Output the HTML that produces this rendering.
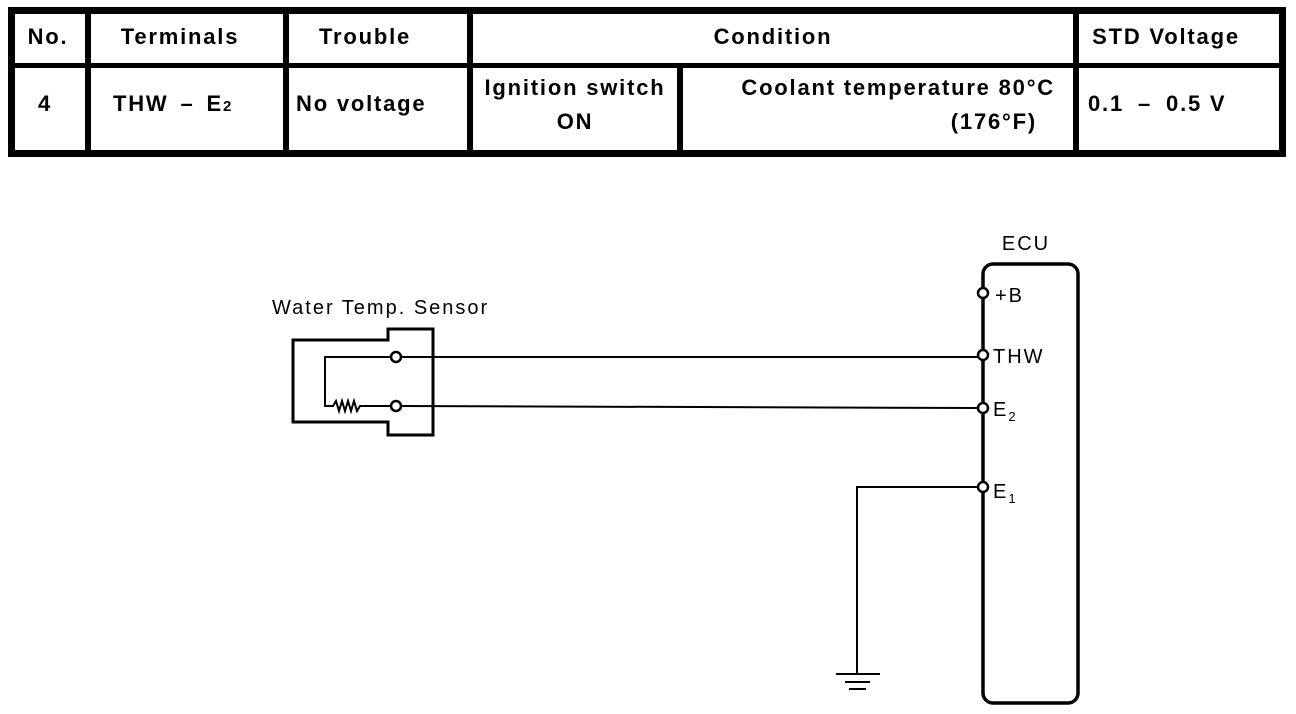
<!DOCTYPE html>
<html><head><meta charset="utf-8"><style>
html,body{margin:0;padding:0;background:#fff;}
svg{display:block;}
.t{font-family:"Liberation Sans",Arial,sans-serif;font-weight:bold;font-size:22px;letter-spacing:1.8px;fill:#000;}
.d{font-family:"Liberation Sans",Arial,sans-serif;font-size:20px;letter-spacing:2px;fill:#000;}
</style></head><body>
<svg width="1296" height="714" viewBox="0 0 1296 714" xmlns="http://www.w3.org/2000/svg">
<g fill="#000">
<rect x="8" y="7" width="1278" height="7"/>
<rect x="8" y="150" width="1278" height="7"/>
<rect x="8" y="7" width="7" height="150"/>
<rect x="1279" y="7" width="7" height="150"/>
<rect x="8" y="63" width="1278" height="5"/>
<rect x="85" y="7" width="6" height="150"/>
<rect x="283" y="7" width="6" height="150"/>
<rect x="467" y="7" width="6" height="150"/>
<rect x="677" y="66" width="6" height="90"/>
<rect x="1073" y="7" width="6" height="150"/>
</g>
<text class="t" x="48" y="44" text-anchor="middle">No.</text>
<text class="t" x="180" y="44" text-anchor="middle">Terminals</text>
<text class="t" x="365" y="44" text-anchor="middle">Trouble</text>
<text class="t" x="773" y="44" text-anchor="middle">Condition</text>
<text class="t" x="1166" y="44" text-anchor="middle">STD Voltage</text>
<text class="t" x="45" y="111" text-anchor="middle">4</text>
<text class="t" x="113" y="111">THW<tspan dx="12">–</tspan><tspan dx="12">E</tspan><tspan font-size="15">2</tspan></text>
<text class="t" x="296" y="111">No voltage</text>
<text class="t" x="575" y="95" text-anchor="middle">Ignition switch</text>
<text class="t" x="575" y="129" text-anchor="middle">ON</text>
<text class="t" x="1055" y="95" text-anchor="end">Coolant temperature 80°C</text>
<text class="t" x="1037" y="129" text-anchor="end">(176°F)</text>
<text class="t" x="1088" y="111">0.1<tspan dx="14">–</tspan><tspan dx="14">0.5 V</tspan></text>

<text class="d" x="272" y="314">Water Temp. Sensor</text>
<g fill="none" stroke="#000" stroke-width="3">
<path d="M388 329 H433 V435 H388 V422 H293 V340 H388 Z"/>
</g>
<g fill="none" stroke="#000" stroke-width="2">
<path d="M391 357 H325 V406 H333 l3 -5 l3 10 l3 -10 l3 10 l3 -10 l3 10 l3 -10 l3 10 l3 -5 H391"/>
<line x1="401" y1="357" x2="978" y2="357"/>
<line x1="401" y1="406" x2="978" y2="408"/>
<path d="M979 487 H857 V674"/>
<line x1="836" y1="674" x2="880" y2="674"/>
<line x1="845" y1="682" x2="870" y2="682"/>
<line x1="849" y1="689" x2="866" y2="689"/>
</g>
<g fill="#fff" stroke="#000" stroke-width="2.5">
<circle cx="396" cy="357" r="5"/>
<circle cx="396" cy="406" r="5"/>
</g>
<text class="d" x="1026" y="250" text-anchor="middle">ECU</text>
<rect x="983" y="264" width="95" height="439" rx="10" fill="none" stroke="#000" stroke-width="3.5"/>
<g fill="#fff" stroke="#000" stroke-width="2.5">
<circle cx="983" cy="293" r="5"/>
<circle cx="983" cy="355" r="5"/>
<circle cx="983" cy="408" r="5"/>
<circle cx="983" cy="487" r="5"/>
</g>
<text class="d" x="995" y="302">+B</text>
<text class="d" x="993" y="363">THW</text>
<text class="d" x="993" y="416">E<tspan font-size="13" dy="5">2</tspan></text>
<text class="d" x="993" y="498">E<tspan font-size="13" dy="5">1</tspan></text>
</svg>
</body></html>
